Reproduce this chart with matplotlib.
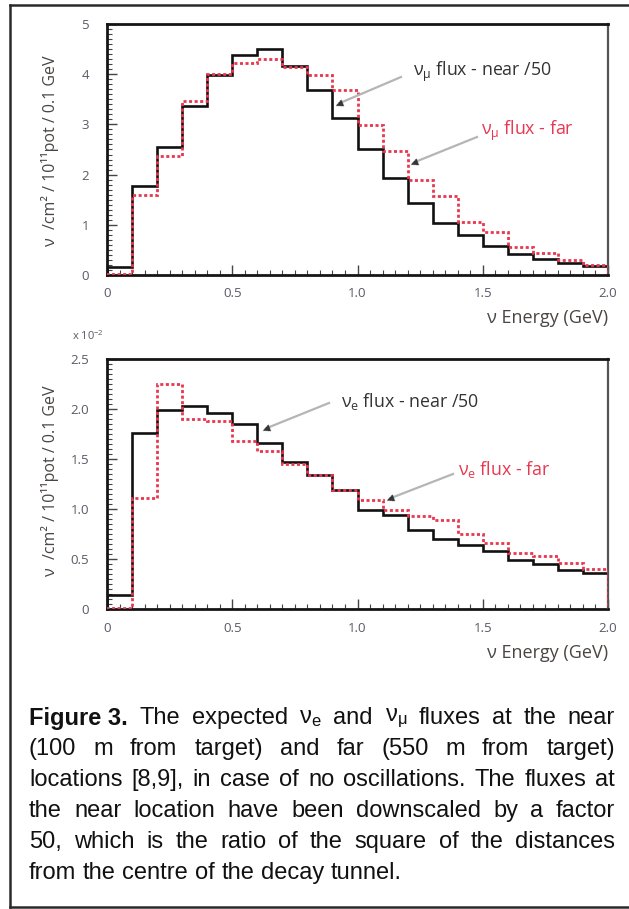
import numpy as np
import matplotlib
matplotlib.use('Agg')
import matplotlib.pyplot as plt
from matplotlib.ticker import MultipleLocator, FixedLocator

# ---- data ----
edges = np.round(np.arange(0, 2.01, 0.1), 1)

numu_near = [0.15, 1.78, 2.55, 3.37, 3.98, 4.38, 4.50, 4.17, 3.68, 3.12,
             2.50, 1.93, 1.43, 1.04, 0.80, 0.58, 0.41, 0.31, 0.24, 0.17]
numu_far = [0.02, 1.60, 2.38, 3.47, 4.00, 4.22, 4.30, 4.15, 3.98, 3.68,
            2.98, 2.48, 1.90, 1.58, 1.06, 0.86, 0.55, 0.44, 0.30, 0.20]

nue_near = [0.14, 1.76, 1.99, 2.03, 1.96, 1.85, 1.66, 1.47, 1.34, 1.19,
            0.99, 0.94, 0.79, 0.70, 0.64, 0.58, 0.49, 0.45, 0.39, 0.36]
nue_far = [0.01, 1.11, 2.25, 1.90, 1.88, 1.68, 1.58, 1.45, 1.34, 1.19,
           1.09, 0.99, 0.93, 0.89, 0.75, 0.66, 0.56, 0.53, 0.46, 0.40]

x_ticks = [0, 0.5, 1.0, 1.5, 2.0]
x_ticklabels = ['0', '0.5', '1.0', '1.5', '2.0']
top_yticks = [0, 1, 2, 3, 4, 5]
top_yticklabels = ['0', '1', '2', '3', '4', '5']
bot_yticks = [0, 0.5, 1.0, 1.5, 2.0, 2.5]
bot_yticklabels = ['0', '0.5', '1.0', '1.5', '2.0', '2.5']

caption_lines = [
    ['Figure 3.', 'The', 'expected', r'$\mathregular{ν_e}$', 'and', r'$\mathregular{ν_μ}$',
     'fluxes', 'at', 'the', 'near'],
    ['(100', 'm', 'from', 'target)', 'and', 'far', '(550', 'm', 'from', 'target)'],
    ['locations', '[8,9],', 'in', 'case', 'of', 'no', 'oscillations.', 'The', 'fluxes', 'at'],
    ['the', 'near', 'location', 'have', 'been', 'downscaled', 'by', 'a', 'factor'],
    ['50,', 'which', 'is', 'the', 'ratio', 'of', 'the', 'square', 'of', 'the', 'distances'],
    ['from', 'the', 'centre', 'of', 'the', 'decay', 'tunnel.'],
]

W, H = 629, 909
AX_FONT = ['Open Sans', 'DejaVu Sans']
TICK_COL = '#5d5866'
LAB_COL = '#4a4542'
RED = '#e8374f'


def fx(x):
    return x / W


def fy(y):
    return 1 - y / H


def setup_axes(ax, yticks, yticklabels, ymax, yminor):
    ax.set_xlim(0, 2.0)
    ax.set_ylim(0, ymax)
    ax.xaxis.set_major_locator(FixedLocator(x_ticks))
    ax.set_xticklabels(x_ticklabels)
    ax.xaxis.set_minor_locator(MultipleLocator(0.05))
    ax.yaxis.set_major_locator(FixedLocator(yticks))
    ax.set_yticklabels(yticklabels)
    ax.yaxis.set_minor_locator(MultipleLocator(yminor))
    ax.tick_params(which='both', direction='in', top=False, right=False,
                   colors='#444444', labelcolor=TICK_COL)
    ax.tick_params(which='major', length=7, width=1.0, labelsize=9.5)
    ax.tick_params(axis='x', which='major', pad=9)
    ax.tick_params(axis='y', which='major', pad=13)
    ax.tick_params(which='minor', length=3.5, width=0.8)
    for lab in ax.get_xticklabels() + ax.get_yticklabels():
        lab.set_family(AX_FONT)
    for side in ['top', 'left', 'bottom']:
        ax.spines[side].set_linewidth(2.0)
        ax.spines[side].set_color('#151515')
    ax.spines['right'].set_linewidth(1.6)
    ax.spines['right'].set_color('#555555')


def arrow(x0, y0, x1, y1):
    fig.add_artist(plt.Line2D([fx(x0), fx(x1)], [fy(y0), fy(y1)], color='#b5b5b5', lw=1.6))
    ang = np.degrees(np.arctan2(y0 - y1, x1 - x0))
    fig.text(fx(x1), fy(y1), '▲', fontsize=7, color='#333333', ha='center', va='center',
             rotation=ang - 90, family=AX_FONT)


fig = plt.figure(figsize=(W / 100, H / 100), dpi=100)

# outer frame (left, top, bottom)
for xs, ys in [([10, 10], [5, 907]), ([10, 629], [5, 5]), ([10, 629], [907, 907])]:
    fig.add_artist(plt.Line2D([fx(v) for v in xs], [fy(v) for v in ys], color='#2a2a2a', lw=1.8))

ax1 = fig.add_axes([fx(107), fy(275), (608 - 107) / W, (275 - 24) / H])
ax2 = fig.add_axes([fx(107), fy(609), (608 - 107) / W, (609 - 359) / H])

for ax, near, far in [(ax1, numu_near, numu_far), (ax2, nue_near, nue_far)]:
    ax.stairs(far, edges, color=RED, lw=2.0, linestyle=(0, (1.1, 0.9)), zorder=3)
    ax.stairs(near, edges, color='#111111', lw=1.9, zorder=2)

setup_axes(ax1, top_yticks, top_yticklabels, 5, 0.1)
setup_axes(ax2, bot_yticks, bot_yticklabels, 2.5, 0.05)

ylab = 'ν  /cm² / 10¹¹pot / 0.1 GeV'
fig.text(fx(50), fy(151), ylab, rotation=90, ha='center', va='center', fontsize=11.5,
         color=LAB_COL, family=AX_FONT)
fig.text(fx(50), fy(481), ylab, rotation=90, ha='center', va='center', fontsize=11.5,
         color=LAB_COL, family=AX_FONT)

fig.text(fx(608), fy(318), 'ν Energy (GeV)', ha='right', va='center', fontsize=13,
         color=LAB_COL, family=AX_FONT)
fig.text(fx(608), fy(653), 'ν Energy (GeV)', ha='right', va='center', fontsize=13,
         color=LAB_COL, family=AX_FONT)
fig.text(fx(72), fy(336), r'x 10$^{\mathregular{-2}}$', ha='left', va='center', fontsize=8,
         color=TICK_COL, family=AX_FONT)

# annotations
fig.text(fx(413), fy(72), r'$\mathregular{ν_μ}$ flux - near /50', ha='left', va='center',
         fontsize=12.8, color='#333333', family=AX_FONT)
fig.text(fx(481), fy(131), r'$\mathregular{ν_μ}$ flux - far', ha='left', va='center',
         fontsize=12.8, color=RED, family=AX_FONT)
fig.text(fx(341), fy(401), r'$\mathregular{ν_e}$ flux - near /50', ha='left', va='center',
         fontsize=12.8, color='#333333', family=AX_FONT)
fig.text(fx(458), fy(470), r'$\mathregular{ν_e}$ flux - far', ha='left', va='center',
         fontsize=12.8, color=RED, family=AX_FONT)
arrow(401, 77, 340, 103)
arrow(477, 137, 415, 162)
arrow(329, 403, 267, 428)
arrow(453, 474, 391, 498)

# justified caption
renderer = fig.canvas.get_renderer()
left, right = 29, 615
cap_size = 17
y = 718
for i, words in enumerate(caption_lines):
    texts = []
    for w in words:
        weight = 'bold' if w == 'Figure 3.' else 'normal'
        t = fig.text(0, fy(y), w, fontsize=cap_size, family='Liberation Sans',
                     weight=weight, va='center', ha='left', color='#111111')
        texts.append(t)
    widths = [t.get_window_extent(renderer).width for t in texts]
    if i < len(caption_lines) - 1:
        gap = (right - left - sum(widths)) / (len(words) - 1)
    else:
        space = fig.text(0, 0, 'a b', fontsize=cap_size, family='Liberation Sans')
        ab = fig.text(0, 0, 'ab', fontsize=cap_size, family='Liberation Sans')
        gap = space.get_window_extent(renderer).width - ab.get_window_extent(renderer).width
        space.remove()
        ab.remove()
    x = left
    for t, wd in zip(texts, widths):
        t.set_x(fx(x))
        x += wd + gap
    y += 31

fig.savefig('out.png', dpi=100)
